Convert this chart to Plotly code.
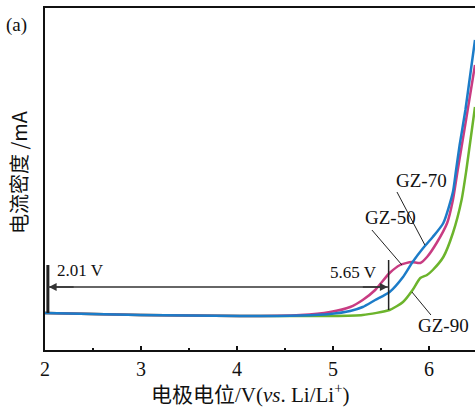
import plotly.graph_objects as go

# GZ-50 (magenta)
x50 = [2.00, 2.99, 4.03, 4.66, 4.97, 5.18, 5.31, 5.44, 5.59, 5.70, 5.82, 5.91, 5.98, 6.08, 6.19, 6.25, 6.30, 6.39, 6.48]
y50 = [3.7, 3.5, 3.4, 3.5, 3.8, 4.3, 5.0, 6.0, 7.7, 8.5, 8.8, 8.7, 9.3, 10.7, 12.7, 15.0, 18.0, 23.2, 28.5]
# GZ-70 (blue)
x70 = [2.00, 2.99, 4.03, 4.66, 4.97, 5.18, 5.31, 5.44, 5.59, 5.73, 5.83, 5.94, 6.04, 6.15, 6.25, 6.28, 6.32, 6.38, 6.43, 6.48]
y70 = [3.7, 3.5, 3.4, 3.45, 3.6, 3.9, 4.3, 5.0, 5.8, 7.3, 8.8, 10.2, 11.3, 12.7, 15.8, 17.8, 20.5, 24.0, 27.5, 31.0]
# GZ-90 (green)
x90 = [2.00, 2.99, 4.03, 4.97, 5.31, 5.59, 5.73, 5.83, 5.91, 5.98, 6.04, 6.15, 6.25, 6.34, 6.39, 6.48]
y90 = [3.7, 3.5, 3.4, 3.4, 3.5, 4.0, 4.8, 6.0, 7.2, 7.5, 8.0, 9.3, 11.7, 15.0, 18.0, 24.3]

xticks = [2, 3, 4, 5, 6]
lo_v, hi_v = 2.03, 5.58
arrow_y = 6.3

fig = go.Figure()
for xs, ys, c in [(x90, y90, "#6cb42c"), (x50, y50, "#c83c82"), (x70, y70, "#1c7cc8")]:
    fig.add_trace(go.Scatter(x=xs, y=ys, mode="lines",
                             line=dict(color=c, width=2.5, shape="spline", smoothing=0.6),
                             showlegend=False, hoverinfo="skip"))

# marker lines
fig.add_shape(type="line", x0=lo_v, x1=lo_v, y0=3.7, y1=8.5, line=dict(color="#222", width=3))
fig.add_shape(type="line", x0=hi_v, x1=hi_v, y0=4.0, y1=9.0, line=dict(color="#222", width=1.5))

# double arrow
fig.add_shape(type="line", x0=lo_v, x1=hi_v, y0=arrow_y, y1=arrow_y, line=dict(color="#333", width=1.3))
for end, tail in ((lo_v + 0.01, lo_v + 0.3), (hi_v - 0.01, hi_v - 0.3)):
    fig.add_annotation(x=end, y=arrow_y, ax=tail, ay=arrow_y, axref="x", ayref="y", xref="x", yref="y",
                       showarrow=True, arrowhead=2, arrowsize=1.2, arrowwidth=1.3,
                       arrowcolor="#333", text=" ", standoff=0, startstandoff=0)

tfont = dict(family="Liberation Serif", size=17, color="#111")
fig.add_annotation(x=2.10, y=8.0, text="2.01 V", showarrow=False, xanchor="left", font=tfont)
fig.add_annotation(x=5.21, y=7.8, text="5.65 V", showarrow=False, font=tfont)

lfont = dict(family="Liberation Serif", size=19, color="#111")
fig.add_annotation(x=5.92, y=17.0, text="GZ-70", showarrow=False, font=lfont)
fig.add_annotation(x=5.60, y=13.3, text="GZ-50", showarrow=False, font=lfont)
fig.add_annotation(x=6.15, y=2.5, text="GZ-90", showarrow=False, font=lfont)

# leader lines
for x0, y0, x1, y1 in [(5.667, 15.8, 5.958, 10.5), (5.406, 12.0, 5.719, 8.5), (5.823, 5.8, 6.021, 3.5)]:
    fig.add_shape(type="line", x0=x0, y0=y0, x1=x1, y1=y1, line=dict(color="#222", width=1))

fig.add_annotation(x=-0.095, y=0.95, xref="paper", yref="paper", text="(a)", showarrow=False,
                   xanchor="left", yanchor="middle", font=dict(family="Liberation Serif", size=19, color="#111"))
fig.add_annotation(x=-0.063, y=0.52, xref="paper", yref="paper", text="电流密度 /mA", showarrow=False,
                   xanchor="center", yanchor="middle",
                   textangle=-90, font=dict(family="Noto Sans CJK SC", size=20, color="#111"))
fig.add_annotation(x=0.477, y=-0.126, xref="paper", yref="paper",
                   text="电极电位/V(<i>vs</i>. Li/Li<sup>+</sup>)", showarrow=False,
                   xanchor="center", yanchor="middle",
                   font=dict(family="Liberation Serif, Noto Sans CJK SC", size=21, color="#111"))

fig.update_layout(
    width=475, height=411, margin=dict(l=45, r=0, t=8, b=61, autoexpand=False),
    plot_bgcolor="white", paper_bgcolor="white",
    xaxis=dict(range=[2, 6.48], tickvals=xticks, ticks="inside", ticklen=4, tickwidth=2,
               tickcolor="#111", showline=True, linecolor="#111", linewidth=2, mirror=True,
               showgrid=False, zeroline=False, automargin=False,
               tickfont=dict(family="Liberation Serif", size=20, color="#111"),
               minor=dict(dtick=0.5, ticks="inside", ticklen=2, tickwidth=1.5, tickcolor="#111")),
    yaxis=dict(range=[0, 34.2], showticklabels=False, ticks="", showline=True, linecolor="#111",
               linewidth=2, showgrid=False, zeroline=False, automargin=False),
)
fig.write_html("out.html", config={"displayModeBar": False},
               post_script="document.body.style.margin='0';")
